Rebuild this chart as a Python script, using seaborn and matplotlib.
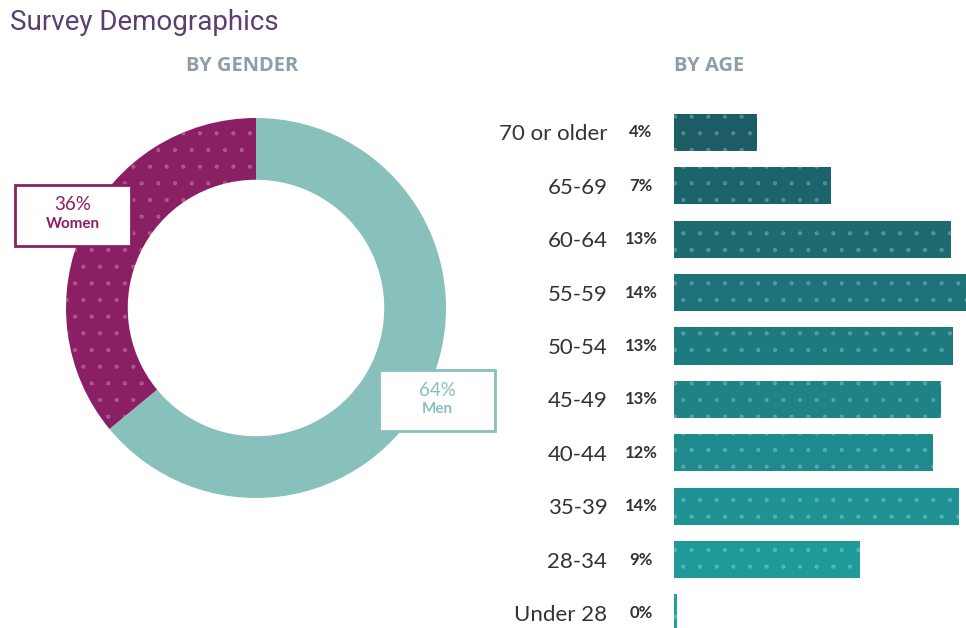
import seaborn as sns
import pandas as pd
import matplotlib.pyplot as plt
from matplotlib.patches import Rectangle

###################
# Data
gender_labels = ["Women", "Men"]
gender_share = [36, 64]

age_groups = ["70 or older", "65-69", "60-64", "55-59", "50-54",
              "45-49", "40-44", "35-39", "28-34", "Under 28"]
age_share = [3.95, 7.46, 13.19, 14.3, 13.29, 12.7, 12.35, 13.56, 8.87, 0.12]
age_pct_labels = ["4%", "7%", "13%", "14%", "13%", "13%", "12%", "14%", "9%", "0%"]

###################
# Setup
sns.set_theme(style="white")
plt.rcParams["font.family"] = ["Lato", "DejaVu Sans"]
plt.rcParams["hatch.linewidth"] = 0.6

purple = "#8B1F63"
teal_light = "#88C0BC"
title_col = "#5C3F72"
sub_col = "#8D9EA8"
text_col = "#333333"
dot_col = (1, 1, 1, 0.22)
bar_colors = sns.blend_palette(["#1C5C64", "#1FA1A1"], len(age_groups))

W, H = 966, 628
fig = plt.figure(figsize=(W / 100, H / 100), dpi=100)


def fx(px):
    return px / W


def fy(py):
    return 1 - py / H


###################
# Titles
fig.text(fx(10), fy(22), "Survey Demographics", fontsize=20, color=title_col,
         family=["Roboto", "DejaVu Sans"], va="center", ha="left")
fig.text(fx(242), fy(66), "BY GENDER", fontsize=14.5, color=sub_col, fontweight="bold",
         family=["Open Sans", "DejaVu Sans"], ha="center", va="center")
fig.text(fx(709), fy(66), "BY AGE", fontsize=14.5, color=sub_col, fontweight="bold",
         family=["Open Sans", "DejaVu Sans"], ha="center", va="center")

###################
# Donut
ax_pie = fig.add_axes([fx(66), fy(498), fx(380), 380 / H])
wedges, _ = ax_pie.pie(gender_share, startangle=90, counterclock=True,
                       colors=[purple, teal_light], radius=1.0,
                       wedgeprops=dict(width=0.325, linewidth=0))
wedges[0].set_hatch(".")
wedges[0].set_edgecolor(dot_col)
ax_pie.set_xlim(-1, 1)
ax_pie.set_ylim(-1, 1)
ax_pie.set_aspect("equal")
ax_pie.axis("off")


def label_box(x0, y0, x1, y1, pct, name, color):
    fig.patches.append(Rectangle((fx(x0), fy(y1)), fx(x1 - x0), (y1 - y0) / H,
                                 transform=fig.transFigure, facecolor="white",
                                 edgecolor=color, linewidth=2, zorder=5))
    cx = (x0 + x1) / 2
    fig.text(fx(cx), fy(y0 + 20), f"{pct}%", fontsize=13.5, color=color,
             ha="center", va="center", zorder=6)
    fig.text(fx(cx), fy(y0 + 39), name, fontsize=11, color=color, fontweight="bold",
             ha="center", va="center", zorder=6)


label_box(15, 185, 131, 246, gender_share[0], gender_labels[0], purple)
label_box(379, 370, 495, 431, gender_share[1], gender_labels[1], teal_light)

###################
# Age bars
age_df = pd.DataFrame({"group": age_groups, "share": age_share})
ax_bar = fig.add_axes([fx(674), fy(639.7), fx(W - 674), 534 / H])
sns.barplot(age_df, ax=ax_bar, x="share", y="group", hue="group", palette=bar_colors,
            orient="h", width=0.70, legend=False, linewidth=0, saturation=1)
for patch in ax_bar.patches:
    patch.set_hatch(".")
    patch.set_edgecolor(dot_col)
    patch.set_linewidth(0)
ax_bar.set_xlim(0, 13.9)
ax_bar.set_ylim(9.5, -0.5)
ax_bar.set_xlabel("")
ax_bar.set_ylabel("")
ax_bar.set_xticks([])
ax_bar.set_yticks(range(len(age_groups)))
ax_bar.set_yticklabels(age_groups, fontsize=16, color=text_col)
ax_bar.tick_params(axis="y", length=0, pad=48)
for i, pct in enumerate(age_pct_labels):
    ax_bar.annotate(pct, xy=(0, i), xycoords=("axes fraction", "data"),
                    xytext=(-33, 0), textcoords="offset pixels",
                    ha="center", va="center", fontsize=12, fontweight="bold",
                    color=text_col)
sns.despine(ax=ax_bar, left=True, bottom=True)

###################
# Export
fig.savefig("out.png", dpi=100)
